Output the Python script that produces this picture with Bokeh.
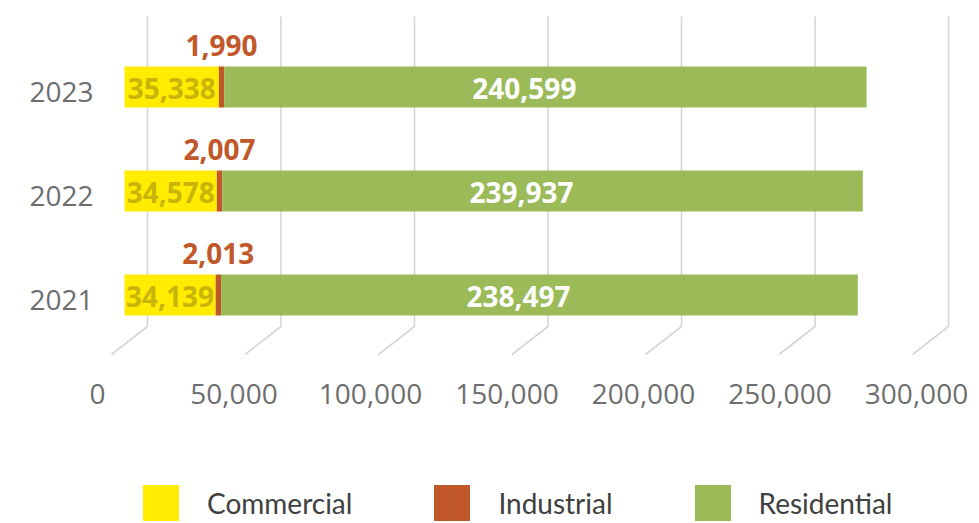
import numpy as np
from bokeh.plotting import figure
from bokeh.models import Range1d, Legend, LegendItem, ColumnDataSource
from bokeh.embed import file_html
from bokeh.resources import INLINE
from bokeh.core.properties import value

# ---- data ----
years = [2021, 2022, 2023]
year_labels = ["2021", "2022", "2023"]
commercial = [34139, 34578, 35338]
industrial = [2013, 2007, 1990]
residential = [238497, 239937, 240599]
x_ticks = [0, 50000, 100000, 150000, 200000, 250000, 300000]
x_tick_labels = ["0", "50,000", "100,000", "150,000", "200,000", "250,000", "300,000"]
series_names = ["Commercial", "Industrial", "Residential"]

# ---- layout / style ----
W, H = 979, 523
PPU = 2.67 / 1000.0        # pixels per unit (front plane)
X0 = 124                   # pixel of value 0 on the front plane
BACK_DX = 23               # back wall offset in px
FLOOR_DX, FLOOR_DY = 36, 28
LBL_X0, LBL_PPU = 97, 819 / 300000.0
ROW_PX = 104               # pixels per year
Y2021_PX = 294.5
COLORS = ["#FFEC00", "#C0582A", "#9BBB59"]
GRID = "#D6D6D6"
GRAY = "#6E6E6E"
FONT = "Open Sans"

p = figure(width=W, height=H, toolbar_location=None, output_backend="svg",
           x_axis_type=None, y_axis_type=None, min_border=0,
           x_range=Range1d(-X0 / PPU, (W - X0) / PPU),
           y_range=Range1d(2021 - (H - Y2021_PX) / ROW_PX, 2021 + Y2021_PX / ROW_PX))
p.outline_line_color = None
p.background_fill_color = "white"
p.border_fill_color = "white"

p.extra_x_ranges["back"] = Range1d(-(X0 + BACK_DX) / PPU, (W - X0 - BACK_DX) / PPU)
p.extra_x_ranges["lbl"] = Range1d(-LBL_X0 / LBL_PPU, (W - LBL_X0) / LBL_PPU)
p.extra_y_ranges["px"] = Range1d(H, 0)

ticks = np.array(x_ticks, dtype=float)
# back-wall gridlines and floor diagonals
p.segment(x0=ticks, y0=16, x1=ticks, y1=326, x_range_name="back", y_range_name="px",
          line_color=GRID, line_width=1.6)
p.segment(x0=ticks, y0=326, x1=ticks - FLOOR_DX / PPU, y1=326 + FLOOR_DY,
          x_range_name="back", y_range_name="px", line_color=GRID, line_width=1.6)

c = np.array(commercial, dtype=float)
i = np.array(industrial, dtype=float)
r = np.array(residential, dtype=float)
src = ColumnDataSource(dict(
    y=years, c=c, ci=c + i, cir=c + i + r,
    c_mid=c / 2, i_mid=c + i / 2, r_mid=c + i + r / 2,
    c_txt=[f"{v:,}" for v in commercial],
    i_txt=[f"{v:,}" for v in industrial],
    r_txt=[f"{v:,}" for v in residential],
    ylab=year_labels,
))

bh = 41 / ROW_PX
r1 = p.hbar(y="y", left=0, right="c", height=bh, source=src, fill_color=COLORS[0], line_color=None)
r2 = p.hbar(y="y", left="c", right="ci", height=bh, source=src, fill_color=COLORS[1], line_color=None)
r3 = p.hbar(y="y", left="ci", right="cir", height=bh, source=src, fill_color=COLORS[2], line_color=None)

common = dict(source=src, text_font=value(FONT), text_font_size="28px",
              text_font_style="bold", text_align="center", text_baseline="middle")
p.text(x="c_mid", y="y", text="c_txt", text_color="#C9B50A", y_offset=1, **common)
p.text(x="i_mid", y="y", text="i_txt", text_color="#C0582A", y_offset=-42, **common)
p.text(x="r_mid", y="y", text="r_txt", text_color="white", x_offset=-21, y_offset=1, **common)

# year labels
p.text(x=0, y="y", text="ylab", source=src, x_offset=-31, y_offset=5,
       text_font=value(FONT), text_font_size="28px", text_color=GRAY,
       text_align="right", text_baseline="middle")

# value-axis labels
p.text(x=ticks, y=[393] * len(x_ticks), text=x_tick_labels, x_range_name="lbl", y_range_name="px",
       text_font=value(FONT), text_font_size="28px", text_color=GRAY,
       text_align="center", text_baseline="middle")

legend = Legend(items=[LegendItem(label=n, renderers=[rr]) for n, rr in zip(series_names, [r1, r2, r3])],
                orientation="horizontal", location=(138, -2),
                glyph_width=45, glyph_height=45, label_standoff=24, spacing=77,
                padding=0, margin=0, border_line_color=None, background_fill_alpha=0,
                label_text_font="Lato", label_text_font_size="28px", label_text_color="#404040")
p.add_layout(legend)

open("out.html", "w").write(file_html(p, INLINE))
